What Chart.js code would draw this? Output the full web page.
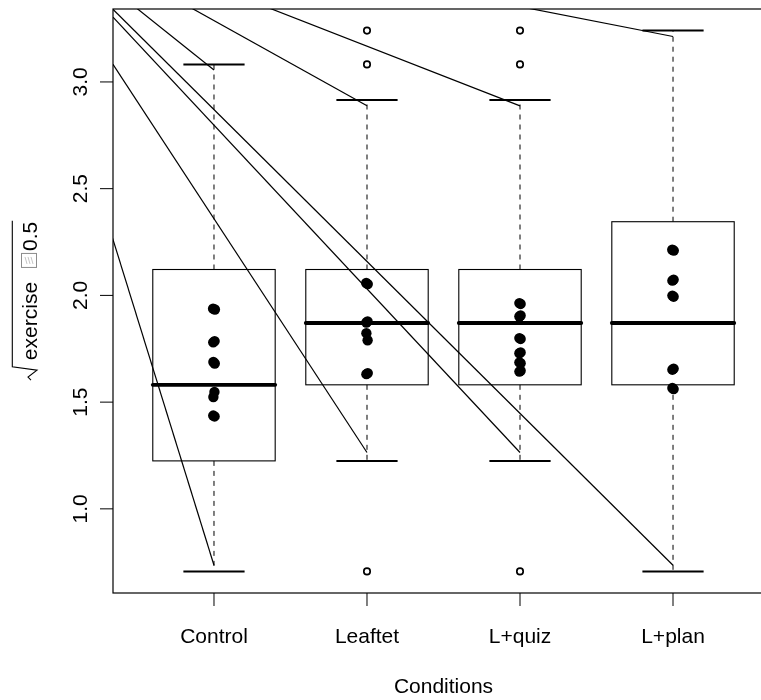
<!DOCTYPE html>
<html><head><meta charset="utf-8">
<script src="https://cdn.jsdelivr.net/npm/chart.js@4.4.1/dist/chart.umd.min.js"></script>
<style>
html,body{margin:0;padding:0;background:#fff;overflow:hidden;width:761px;height:700px}
#wrap{width:790px;height:700px}
</style>
</head><body><div id="wrap"><canvas id="c" width="790" height="700"></canvas></div>
<script>
// ---- data ----
const categories = ['Control', 'Leaftet', 'L+quiz', 'L+plan'];
const whiskerLow  = [0.7071, 1.2247, 1.2247, 0.7071];
const quartile1   = [1.2247, 1.5811, 1.5811, 1.5811];
const medians     = [1.5811, 1.8708, 1.8708, 1.8708];
const quartile3   = [2.1213, 2.1213, 2.1213, 2.3452];
const whiskerHigh = [3.0822, 2.9155, 2.9155, 3.2404];

const outlierGroup = [2, 2, 2, 3, 3, 3];
const outlierValue = [3.2404, 3.0822, 0.7071, 3.2404, 3.0822, 0.7071];

const pointGroup  = [1,1,1,1,1,1,1,1,1,1, 2,2,2,2,2,2,2,2, 3,3,3,3,3,3,3,3,3,3,3,3, 4,4,4,4,4,4,4,4,4,4];
const pointJitter = [-0.006,0.006, 0.004,-0.005, -0.004,0.005, 0.003,-0.004, -0.005,0.004,
                     -0.005,0.005, 0.004,-0.004, -0.004,0.004, 0.005,-0.004,
                     -0.004,0.004, 0.004,-0.004, -0.004,0.004, 0.004,-0.004, -0.004,0.004, 0.004,-0.004,
                     -0.005,0.005, 0.004,-0.004, -0.004,0.004, 0.004,-0.004, -0.004,0.004];
const pointValue  = [1.938,1.934, 1.786,1.780, 1.688,1.681, 1.548,1.524, 1.437,1.433,
                     2.058,2.053, 1.878,1.873, 1.823,1.790, 1.636,1.631,
                     1.964,1.960, 1.906,1.901, 1.800,1.796, 1.733,1.729, 1.686,1.682, 1.647,1.643,
                     2.214,2.210, 2.074,2.069, 1.999,1.994, 1.657,1.652, 1.566,1.561];

const rayOriginX = -0.334;
const rayOriginY = 3.82;
const rayEndGroup = [1, 2, 3, 4, 1, 2, 3, 4];
const rayEndValue = [3.056, 2.888, 2.888, 3.213, 0.7357, 1.264, 1.264, 0.7357];

const yTickValues = [1.0, 1.5, 2.0, 2.5, 3.0];
const yTickLabels = ['1.0', '1.5', '2.0', '2.5', '3.0'];
const xRange = [0.34, 4.66];
const yRange = [0.6058, 3.3417];
const xTitle = 'Conditions';
const yTitleParts = ['exercise', '0.5'];

// ---- chart ----
const FONT = '21px "Liberation Sans", Arial, Helvetica, sans-serif';

const rayDatasets = rayEndGroup.map((g, i) => ({
  type: 'scatter',
  showLine: true,
  data: [{x: rayOriginX, y: rayOriginY}, {x: g, y: rayEndValue[i]}],
  borderColor: '#000',
  borderWidth: 1.2,
  pointRadius: 0,
  clip: 0,
  order: 3
}));

const pointData = pointValue.map((v, i) => ({x: pointGroup[i] + pointJitter[i], y: v}));
const outlierData = outlierValue.map((v, i) => ({x: outlierGroup[i], y: v}));

const boxPlugin = {
  id: 'boxes',
  beforeDatasetsDraw(chart) {
    const {ctx, chartArea: a, scales: {x, y}} = chart;
    ctx.save();
    ctx.beginPath(); ctx.rect(a.left, a.top, a.right - a.left, a.bottom - a.top); ctx.clip();
    ctx.strokeStyle = '#000';
    categories.forEach((c, i) => {
      const k = i + 1;
      const cx = x.getPixelForValue(k);
      const half = x.getPixelForValue(k + 0.4) - cx;
      const capHalf = x.getPixelForValue(k + 0.2) - cx;
      const yq1 = y.getPixelForValue(quartile1[i]);
      const yq3 = y.getPixelForValue(quartile3[i]);
      const ylo = y.getPixelForValue(whiskerLow[i]);
      const yhi = y.getPixelForValue(whiskerHigh[i]);
      const ymed = y.getPixelForValue(medians[i]);
      ctx.lineWidth = 1;
      ctx.setLineDash([5, 5]);
      ctx.beginPath(); ctx.moveTo(cx, yq3); ctx.lineTo(cx, yhi); ctx.stroke();
      ctx.beginPath(); ctx.moveTo(cx, yq1); ctx.lineTo(cx, ylo); ctx.stroke();
      ctx.setLineDash([]);
      ctx.lineWidth = 2;
      ctx.beginPath();
      ctx.moveTo(cx - capHalf, yhi); ctx.lineTo(cx + capHalf, yhi);
      ctx.moveTo(cx - capHalf, ylo); ctx.lineTo(cx + capHalf, ylo);
      ctx.stroke();
      ctx.lineWidth = 1.1;
      ctx.strokeRect(cx - half, yq3, 2 * half, yq1 - yq3);
      ctx.lineWidth = 3.8;
      ctx.lineCap = 'round';
      ctx.beginPath(); ctx.moveTo(cx - half, ymed); ctx.lineTo(cx + half, ymed); ctx.stroke();
      ctx.lineCap = 'butt';
    });
    ctx.restore();
  }
};

const axesPlugin = {
  id: 'rAxes',
  afterDraw(chart) {
    const {ctx, chartArea: a, scales: {x, y}} = chart;
    ctx.save();
    ctx.strokeStyle = '#000';
    ctx.fillStyle = '#000';
    ctx.lineWidth = 1.2;
    ctx.strokeRect(a.left, a.top, a.right - a.left, a.bottom - a.top);
    ctx.font = FONT;
    ctx.lineWidth = 1;
    yTickValues.forEach((v, i) => {
      const py = y.getPixelForValue(v);
      ctx.beginPath(); ctx.moveTo(a.left - 13, py); ctx.lineTo(a.left, py); ctx.stroke();
      ctx.save();
      ctx.translate(a.left - 26.5, py);
      ctx.rotate(-Math.PI / 2);
      ctx.textAlign = 'center'; ctx.textBaseline = 'alphabetic';
      ctx.fillText(yTickLabels[i], 0, 0);
      ctx.restore();
    });
    categories.forEach((c, i) => {
      const px = x.getPixelForValue(i + 1);
      ctx.beginPath(); ctx.moveTo(px, a.bottom); ctx.lineTo(px, a.bottom + 13); ctx.stroke();
      ctx.textAlign = 'center'; ctx.textBaseline = 'alphabetic';
      ctx.fillText(c, px, a.bottom + 49.5);
    });
    ctx.textAlign = 'center';
    ctx.fillText(xTitle, (a.left + a.right) / 2, a.bottom + 99.5);
    // y title: sqrt(exercise [box] 0.5)
    ctx.save();
    ctx.translate(a.left - 76, y.getPixelForValue(1.603));
    ctx.rotate(-Math.PI / 2);
    ctx.textAlign = 'left'; ctx.textBaseline = 'alphabetic';
    const w1 = ctx.measureText(yTitleParts[0]).width;
    const boxStart = 20 + w1 + 14;
    const w2 = ctx.measureText(yTitleParts[1]).width;
    const endU = boxStart + 17 + w2 + 1;
    ctx.lineWidth = 1.1;
    ctx.beginPath();
    ctx.moveTo(0, -6); ctx.lineTo(3, -9); ctx.lineTo(10, 0); ctx.lineTo(13.3, -24.7); ctx.lineTo(endU, -24.7);
    ctx.stroke();
    ctx.fillText(yTitleParts[0], 20, 0);
    ctx.strokeStyle = '#8c8c8c'; ctx.lineWidth = 1;
    ctx.strokeRect(boxStart + 0.5, -15.5, 14, 15);
    ctx.strokeStyle = '#c4c4c4';
    ctx.beginPath();
    ctx.moveTo(boxStart + 4, -4); ctx.lineTo(boxStart + 11, -6);
    ctx.moveTo(boxStart + 4, -7); ctx.lineTo(boxStart + 11, -9);
    ctx.moveTo(boxStart + 4, -10); ctx.lineTo(boxStart + 11, -12);
    ctx.stroke();
    ctx.fillText(yTitleParts[1], boxStart + 17, 0);
    ctx.restore();
    ctx.restore();
  }
};

new Chart(document.getElementById('c'), {
  type: 'scatter',
  data: {
    datasets: [
      {data: pointData, backgroundColor: '#000', borderColor: '#000', borderWidth: 0, pointRadius: 5.2, order: 0},
      {data: outlierData, backgroundColor: 'rgba(0,0,0,0)', borderColor: '#000', borderWidth: 1.7, pointRadius: 3.2, order: 1},
      ...rayDatasets
    ]
  },
  options: {
    responsive: false,
    animation: false,
    devicePixelRatio: 1,
    events: [],
    layout: {padding: {left: 113, top: 9, right: 16, bottom: 107}},
    scales: {
      x: {type: 'linear', min: xRange[0], max: xRange[1], display: false},
      y: {type: 'linear', min: yRange[0], max: yRange[1], display: false}
    },
    plugins: {legend: {display: false}, tooltip: {enabled: false}}
  },
  plugins: [boxPlugin, axesPlugin]
});
</script>
</body></html>
